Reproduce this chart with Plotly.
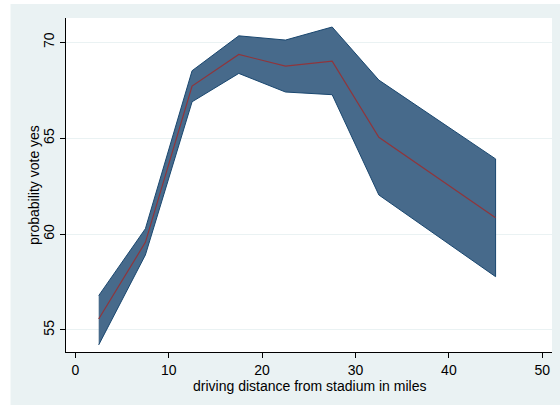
import plotly.graph_objects as go

distance = [2.5, 7.5, 12.5, 17.5, 22.5, 27.5, 32.5, 45]
prob_mean = [55.57, 59.57, 67.72, 69.37, 68.76, 69.02, 65.05, 60.85]
prob_upper = [56.79, 60.28, 68.52, 70.34, 70.12, 70.80, 68.03, 63.92]
prob_lower = [54.22, 58.91, 66.90, 68.38, 67.41, 67.27, 62.04, 57.78]
x_ticks = [0, 10, 20, 30, 40, 50]
y_ticks = [55, 60, 65, 70]

W, H = 560, 405
L, R, T, B = 66, 8, 18, 53
pw, ph = W - L - R, H - T - B

def px_x(p):
    return (p - L) / pw

def px_y(p):
    return (H - B - p) / ph

fig = go.Figure()
fig.add_trace(go.Scatter(
    x=distance + distance[::-1],
    y=prob_upper + prob_lower[::-1],
    fill="toself", fillcolor="#476a8b",
    line=dict(color="#1a476f", width=1),
    mode="lines", hoverinfo="skip", showlegend=False,
))
fig.add_trace(go.Scatter(
    x=distance, y=prob_mean, mode="lines",
    line=dict(color="#90353b", width=1.2), showlegend=False,
))

font = dict(family="Liberation Sans, Arial, sans-serif", size=14, color="black")

fig.update_layout(
    width=W, height=H,
    margin=dict(l=L, r=R, t=T, b=B, pad=0, autoexpand=False),
    paper_bgcolor="#eaf2f3",
    plot_bgcolor="white",
    font=font,
    xaxis=dict(
        range=[-1.0, 51.04], tickvals=x_ticks, showgrid=False, zeroline=False,
        showline=True, linecolor="black", linewidth=1,
        ticks="outside", ticklen=5, tickcolor="black",
        tickfont=font, automargin=False,
    ),
    yaxis=dict(
        range=[53.85, 71.27], tickvals=y_ticks, showgrid=True, gridcolor="#eaf2f3",
        gridwidth=1, zeroline=False,
        showline=True, linecolor="black", linewidth=1,
        ticks="outside", ticklen=5, tickcolor="black", tickangle=-90,
        tickfont=font, automargin=False,
    ),
    annotations=[
        dict(text="driving distance from stadium in miles", xref="paper", yref="paper",
             x=px_x(309), y=px_y(386), xanchor="center", yanchor="middle",
             showarrow=False, font=font),
        dict(text="probability vote yes", xref="paper", yref="paper",
             x=px_x(34), y=px_y(185), xanchor="center", yanchor="middle",
             textangle=-90, showarrow=False, font=font),
    ],
    shapes=[
        dict(type="rect", xref="paper", yref="paper", x0=px_x(0), x1=px_x(10.5),
             y0=px_y(H), y1=px_y(0), fillcolor="white", line=dict(width=0), layer="above"),
        dict(type="rect", xref="paper", yref="paper", x0=px_x(0), x1=px_x(W),
             y0=px_y(4), y1=px_y(0), fillcolor="white", line=dict(width=0), layer="above"),
    ],
)

fig.write_html("out.html", config={"displayModeBar": False},
               post_script="document.body.style.margin='0';document.body.style.padding='0';")
